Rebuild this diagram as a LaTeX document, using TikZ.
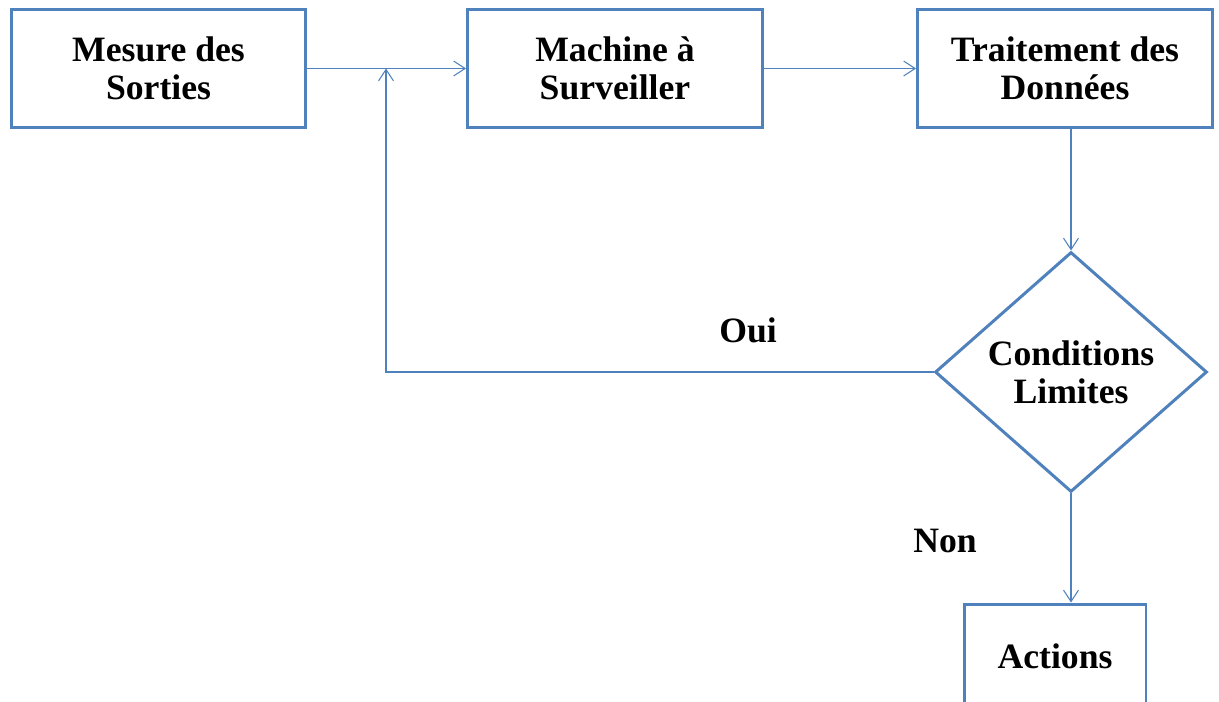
\documentclass[tikz,border=0pt]{standalone}
\usepackage{fontspec}
\setmainfont{Liberation Serif}
\usetikzlibrary{shapes.geometric,arrows.meta}

\definecolor{boxblue}{RGB}{79,129,189}

\begin{document}
\begin{tikzpicture}[x=0.02cm,y=-0.02cm,
    bloc/.style={draw=boxblue,line width=1.7pt,fill=white,minimum width=5.9cm,
      minimum height=2.36cm,align=center,font=\fontsize{20.3}{21.6}\selectfont\bfseries},
    choix/.style={diamond,draw=boxblue,line width=1.7pt,fill=white,inner sep=0pt,
      aspect=1.13,minimum width=5.44cm,minimum height=4.8cm,align=center,
      font=\fontsize{20.3}{21.6}\selectfont\bfseries},
    fleche/.style={draw=boxblue,line width=0.6pt,-{Straight Barb[length=6.5pt,width=8.5pt]}},
    etiq/.style={font=\fontsize{20.3}{21.6}\selectfont\bfseries}]
 	 \useasboundingbox (0,0) rectangle (1219,702);
 	 \clip (0,0) rectangle (1219,702);
 	 \node [bloc] (mes) at (158.5,68.5) {Mesure des\\Sorties};
 	 \node [bloc] (mach) at (615,68.5) {Machine à\\Surveiller};
 	 \node [bloc] (trait) at (1065,68.5) {Traitement des\\Données};
 	 \node [choix] (cond) at (1071,372) {Conditions\\Limites};
 	 \node [bloc, minimum width=3.64cm, minimum height=2.08cm] (act) at (1055,656) {Actions};
 	 \coordinate (retour) at (386,68.5);
 	 % liaisons
 	 \draw [fleche] (mes) -- (mach);
 	 \draw [fleche] (mach) -- (trait);
 	 \draw [fleche] (trait.south -| cond.north) -- (cond.north);
 	 \draw [fleche] (cond.west) -| (retour);
 	 \draw [fleche] (cond.south) -- (cond.south |- act.north);
 	 \node [etiq] (oui) at (748,330) {Oui};
 	 \node [etiq] (non) at (945,541) {Non};
\end{tikzpicture}
\end{document}
